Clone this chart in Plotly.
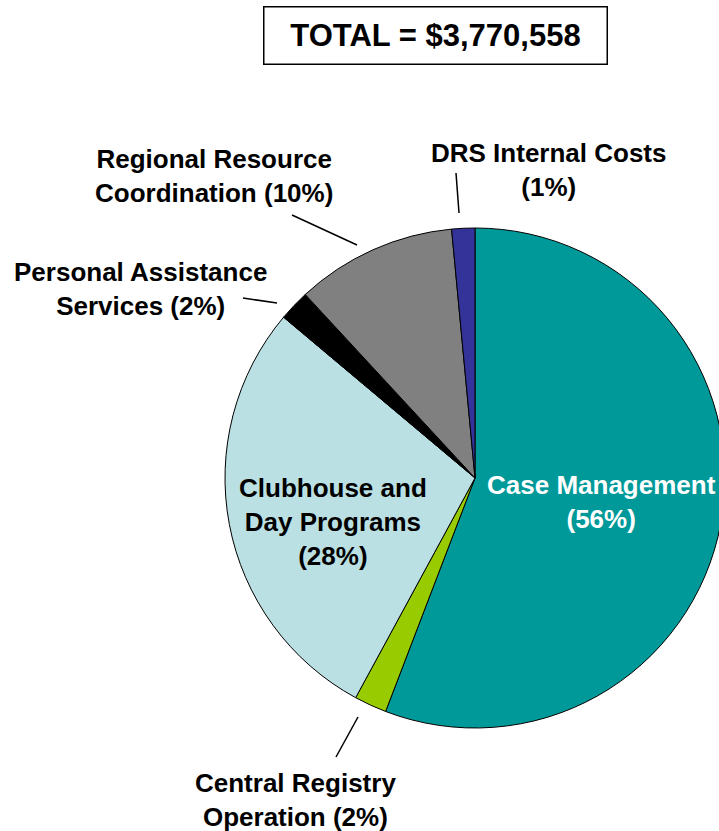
import plotly.graph_objects as go

# ---- data ----
categories = [
    "Case Management",
    "Central Registry Operation",
    "Clubhouse and Day Programs",
    "Personal Assistance Services",
    "Regional Resource Coordination",
    "DRS Internal Costs",
]
values = [2104742, 79182, 1063297, 75411, 391638, 56288]  # sums to 3,770,558
pct_labels = ["56%", "2%", "28%", "2%", "10%", "1%"]
total_label = "TOTAL = $3,770,558"
colors = ["#009999", "#99CC00", "#BBE0E3", "#000000", "#808080", "#333399"]

# the figure is a little wider than the 719px window so that the pie's right
# edge is clipped just as in the reference
W, H = 726, 831


def px(x):
    return x / W


def py(y):
    return 1 - y / H


# pie geometry (pixels)
cx, cy, r = 475, 478, 250

fig = go.Figure(
    go.Pie(
        labels=categories,
        values=values,
        sort=False,
        direction="clockwise",
        rotation=0,
        marker=dict(colors=colors, line=dict(color="#000000", width=1)),
        textinfo="none",
        hoverinfo="label+value+percent",
        showlegend=False,
        domain=dict(x=[px(cx - r), px(cx + r)], y=[py(cy + r), py(cy - r)]),
    )
)

FONT = "Liberation Sans, Arial, sans-serif"
fs = 26

# label texts: (text, center x, center y, color)
label_specs = [
    ("Case Management<br>(" + pct_labels[0] + ")", 601, 502, "white"),
    ("Central Registry<br>Operation (" + pct_labels[1] + ")", 295, 800, "black"),
    ("Clubhouse and<br>Day Programs<br>(" + pct_labels[2] + ")", 333, 522, "black"),
    ("Personal Assistance<br>Services (" + pct_labels[3] + ")", 140, 289, "black"),
    ("Regional Resource<br>Coordination (" + pct_labels[4] + ")", 214, 176, "black"),
    ("DRS Internal Costs<br>(" + pct_labels[5] + ")", 549, 170, "black"),
]

annotations = []
for text, x, y, col in label_specs:
    annotations.append(
        dict(
            text="<b>" + text + "</b>",
            x=px(x), y=py(y), xref="paper", yref="paper",
            xanchor="center", yanchor="middle", align="center",
            showarrow=False,
            font=dict(family=FONT, size=fs, color=col),
        )
    )

annotations.append(
    dict(
        text="<b>" + total_label + "</b>",
        x=px(435), y=py(36), xref="paper", yref="paper",
        xanchor="center", yanchor="middle",
        showarrow=False,
        width=342, height=56,
        bordercolor="#000000", borderwidth=1.5, borderpad=0,
        bgcolor="white",
        font=dict(family=FONT, size=31, color="black"),
    )
)

# leader lines (pixel coords)
leaders = [
    (456, 173, 459, 213),
    (292, 215, 357, 245),
    (243, 298, 277, 303),
    (358, 717, 336, 757),
]
shapes = [
    dict(type="line", xref="paper", yref="paper",
         x0=px(a), y0=py(b), x1=px(c), y1=py(d),
         line=dict(color="black", width=1.5))
    for a, b, c, d in leaders
]

fig.update_layout(
    width=W, height=H,
    margin=dict(l=0, r=0, t=0, b=0),
    paper_bgcolor="white",
    plot_bgcolor="white",
    annotations=annotations,
    shapes=shapes,
)

fig.write_html(
    "out.html",
    config={"displayModeBar": False},
    post_script="document.body.style.margin='0';"
                "document.body.style.overflow='hidden';",
)
